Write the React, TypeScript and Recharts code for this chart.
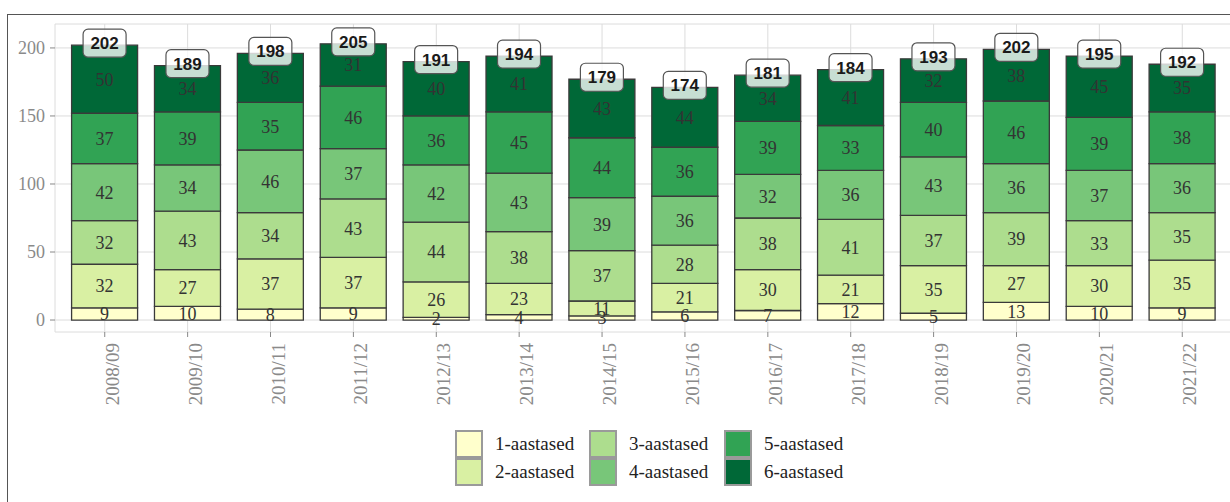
import { BarChart, Bar, XAxis, YAxis, CartesianGrid, LabelList } from "recharts";

const categories = [
  "2008/09", "2009/10", "2010/11", "2011/12", "2012/13", "2013/14", "2014/15",
  "2015/16", "2016/17", "2017/18", "2018/19", "2019/20", "2020/21", "2021/22",
];
const ones = [9, 10, 8, 9, 2, 4, 3, 6, 7, 12, 5, 13, 10, 9];
const twos = [32, 27, 37, 37, 26, 23, 11, 21, 30, 21, 35, 27, 30, 35];
const threes = [32, 43, 34, 43, 44, 38, 37, 28, 38, 41, 37, 39, 33, 35];
const fours = [42, 34, 46, 37, 42, 43, 39, 36, 32, 36, 43, 36, 37, 36];
const fives = [37, 39, 35, 46, 36, 45, 44, 36, 39, 33, 40, 46, 39, 38];
const sixes = [50, 34, 36, 31, 40, 41, 43, 44, 34, 41, 32, 38, 45, 35];
const totals = [202, 189, 198, 205, 191, 194, 179, 174, 181, 184, 193, 202, 195, 192];
const yTicks = [0, 50, 100, 150, 200];

const seriesNames = ["1-aastased", "2-aastased", "3-aastased", "4-aastased", "5-aastased", "6-aastased"];
const seriesColors = ["#ffffcc", "#d9f0a3", "#addd8e", "#78c679", "#31a354", "#006837"];
const seriesKeys = ["s1", "s2", "s3", "s4", "s5", "s6"];

const data = categories.map((cat, i) => ({
  cat,
  s1: ones[i], s2: twos[i], s3: threes[i], s4: fours[i], s5: fives[i], s6: sixes[i],
  total: totals[i],
}));

const serif = "'Liberation Serif', 'Times New Roman', serif";
const sans = "'Liberation Sans', Arial, sans-serif";

// eslint-disable-next-line @typescript-eslint/no-explicit-any
function XTick({ x, y, payload }: any) {
  return (
    <text
      x={x + 14}
      y={y + 4}
      transform={`rotate(-90, ${x + 14}, ${y + 4})`}
      textAnchor="end"
      fill="#8a8a8a"
      fontSize={19}
      fontFamily={serif}
    >
      {payload.value}
    </text>
  );
}

// eslint-disable-next-line @typescript-eslint/no-explicit-any
function TotalLabel({ x, y, width, value }: any) {
  const cx = x + width / 2;
  const cy = y - 2;
  return (
    <g>
      <rect x={cx - 21.5} y={cy - 14} width={43} height={28} rx={5} fill="#ffffff" fillOpacity={0.78} stroke="#555" strokeWidth={1.2} />
      <text x={cx} y={cy + 6} textAnchor="middle" fontSize={17} fontWeight="bold" fontFamily={sans} fill="#1a1a1a">
        {value}
      </text>
    </g>
  );
}

function LegendBox() {
  const cols = [0, 2, 4];
  const colX = [455, 589, 724];
  return (
    <div style={{ position: "absolute", left: 0, top: 0 }}>
      {cols.map((start, c) =>
        [start, start + 1].map((k, r) => (
          <div key={k} style={{ position: "absolute", left: colX[c], top: 430 + r * 28, display: "flex", alignItems: "center", height: 28 }}>
            <div style={{ width: 24, height: 24, background: seriesColors[k], border: "2px solid #9a9a9a" }} />
            <span style={{ marginLeft: 12, fontFamily: serif, fontSize: 19, color: "#222", whiteSpace: "nowrap" }}>
              {seriesNames[k]}
            </span>
          </div>
        ))
      )}
    </div>
  );
}

export default function App() {
  return (
    <div style={{ position: "absolute", left: 0, top: 0, width: 1230, height: 502, overflow: "hidden", background: "#fff" }}>
      <div style={{ position: "absolute", left: 7, top: 14, width: 1300, height: 600, borderLeft: "1.5px solid #555", borderTop: "1.5px solid #555" }} />
      <BarChart
        width={1232}
        height={502}
        data={data}
        margin={{ top: 24, right: 0, left: 0, bottom: 90 }}
        barCategoryGap="10%"
      >
        <CartesianGrid stroke="#dcdcdc" strokeWidth={1} />
        <XAxis
          dataKey="cat"
          height={80}
          padding={{ left: 8.3, right: 8.3 }}
          axisLine={false}
          tickSize={5}
          tickLine={{ stroke: "#888" }}
          interval={0}
          tick={<XTick />}
        />
        <YAxis
          width={55}
          type="number"
          domain={[-8.8, 217.6]}
          allowDataOverflow
          ticks={yTicks}
          axisLine={false}
          tickSize={5}
          tickMargin={5}
          tickLine={{ stroke: "#888" }}
          tick={{ fill: "#8a8a8a", fontSize: 18, fontFamily: serif }}
        />
        {seriesKeys.map((key, i) => (
          <Bar
            key={key}
            dataKey={key}
            name={seriesNames[i]}
            stackId="a"
            fill={seriesColors[i]}
            stroke="#3a3a3a"
            strokeWidth={1.3}
            isAnimationActive={false}
          >
            <LabelList dataKey={key} position="center" fill="#333" fontSize={18} fontFamily={serif} />
            {i === seriesKeys.length - 1 && <LabelList dataKey="total" content={<TotalLabel />} />}
          </Bar>
        ))}
      </BarChart>
      <LegendBox />
    </div>
  );
}
